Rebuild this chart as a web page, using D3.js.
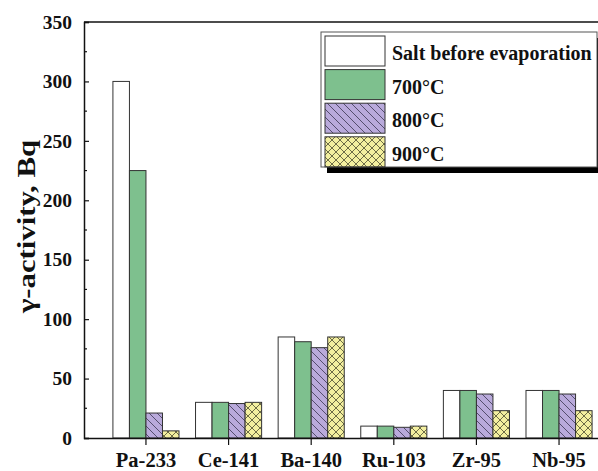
<!DOCTYPE html>
<html><head><meta charset="utf-8">
<script src="https://cdn.jsdelivr.net/npm/d3@7"></script>
<style>body{margin:0;background:#fff}svg{display:block}text{font-family:"Liberation Serif","Times New Roman",serif;font-weight:bold;fill:#111}</style>
</head><body><div id="chart"></div>
<script>
const categories = ["Pa-233","Ce-141","Ba-140","Ru-103","Zr-95","Nb-95"];
const seriesNames = ["Salt before evaporation","700°C","800°C","900°C"];
const saltBefore = [300, 30, 85, 10, 40, 40];
const t700 = [225, 30, 81, 10, 40, 40];
const t800 = [21, 29, 76, 9, 37, 37];
const t900 = [6, 30, 85, 10, 23, 23];
const yTicks = [0,50,100,150,200,250,300,350];
const seriesValues = [saltBefore, t700, t800, t900];

const W = 598, H = 471;
const mLeft = 84, mTop = 22, mBottom = 438, mRight = 621;
const svg = d3.select("#chart").append("svg").attr("width", W).attr("height", H);
const defs = svg.append("defs");

// patterns
const pHatch = defs.append("pattern").attr("id","hatch").attr("patternUnits","userSpaceOnUse")
  .attr("width",8).attr("height",8);
pHatch.append("rect").attr("width",8).attr("height",8).attr("fill","#b9aadb");
pHatch.append("path").attr("d","M-2,-2 L10,10 M-2,6 L2,10 M6,-2 L10,2").attr("stroke","#3a3550").attr("stroke-width",0.8);
const pCross = defs.append("pattern").attr("id","cross").attr("patternUnits","userSpaceOnUse")
  .attr("width",8).attr("height",8);
pCross.append("rect").attr("width",8).attr("height",8).attr("fill","#f3ef9f");
pCross.append("path").attr("d","M0,0 L8,8 M8,0 L0,8").attr("stroke","#4a4a30").attr("stroke-width",0.8);

const fills = ["#ffffff","#7ec08e","url(#hatch)","url(#cross)"];

const x = d3.scaleBand().domain(categories).range([mLeft, mRight]).paddingInner(0.2).paddingOuter(0.35);
const xs = d3.scaleBand().domain(d3.range(4)).range([0, x.bandwidth()]).padding(0);
const y = d3.scaleLinear().domain([0,350]).range([mBottom, mTop]);

// bars
categories.forEach((c, i) => {
  seriesValues.forEach((vals, s) => {
    svg.append("rect")
      .attr("x", x(c) + xs(s)).attr("y", y(vals[i]))
      .attr("width", xs.bandwidth()).attr("height", y(0) - y(vals[i]))
      .attr("fill", fills[s]).attr("stroke", "#333").attr("stroke-width", 1);
  });
});

// frame
svg.append("line").attr("x1",mLeft).attr("x2",W).attr("y1",mTop).attr("y2",mTop).attr("stroke","#111").attr("stroke-width",1.5);

// y axis
const yAxis = d3.axisLeft(y).tickValues(yTicks).tickSize(-5).tickPadding(12);
const gy = svg.append("g").attr("transform",`translate(${mLeft},0)`).call(yAxis);
gy.select(".domain").attr("stroke","#111").attr("stroke-width",1.5);
gy.selectAll(".tick line").attr("stroke","#111").attr("stroke-width",1.2);
gy.selectAll("text").style("font-size","19.5px").style("font-family","'Liberation Serif',serif").style("font-weight","bold").attr("fill","#111");
const minor = d3.range(25, 350, 50);
svg.append("g").selectAll("line").data(minor).join("line")
  .attr("x1",mLeft).attr("x2",mLeft+3).attr("y1",d=>y(d)).attr("y2",d=>y(d)).attr("stroke","#111").attr("stroke-width",1.2);

// x axis
const xAxis = d3.axisBottom(x).tickSize(7).tickPadding(7);
const gx = svg.append("g").attr("transform",`translate(0,${mBottom})`).call(xAxis);
gx.select(".domain").attr("d",`M${mLeft},0.5H${W}`).attr("stroke","#111").attr("stroke-width",1.5);
gx.selectAll(".tick line").attr("stroke","#111").attr("stroke-width",1.2);
gx.selectAll("text").attr("dy",null).attr("y",28.5).style("font-size","20.5px").style("font-family","'Liberation Serif',serif").style("font-weight","bold").attr("fill","#111");

// y title
svg.append("text").attr("transform","translate(35,226.5) rotate(-90)").attr("text-anchor","middle")
  .attr("textLength",173).attr("lengthAdjust","spacingAndGlyphs")
  .style("font-size","25px").text("γ-activity, Bq");

// legend
const lg = svg.append("g");
const lx = 321, ly = 32, lw = 276, lh = 135;
lg.append("rect").attr("x",lx+6).attr("y",ly+6).attr("width",lw).attr("height",lh).attr("fill","#000");
lg.append("rect").attr("x",lx).attr("y",ly).attr("width",lw).attr("height",lh).attr("fill","#fff").attr("stroke","#555").attr("stroke-width",1);
seriesNames.forEach((n, s) => {
  const ry = 36 + s*33.6;
  lg.append("rect").attr("x",325).attr("y",ry).attr("width",60).attr("height",30)
    .attr("fill",fills[s]).attr("stroke","#333").attr("stroke-width",1);
  lg.append("text").attr("x",392).attr("y",ry+24).style("font-size","20px").text(n);
});
</script></body></html>
